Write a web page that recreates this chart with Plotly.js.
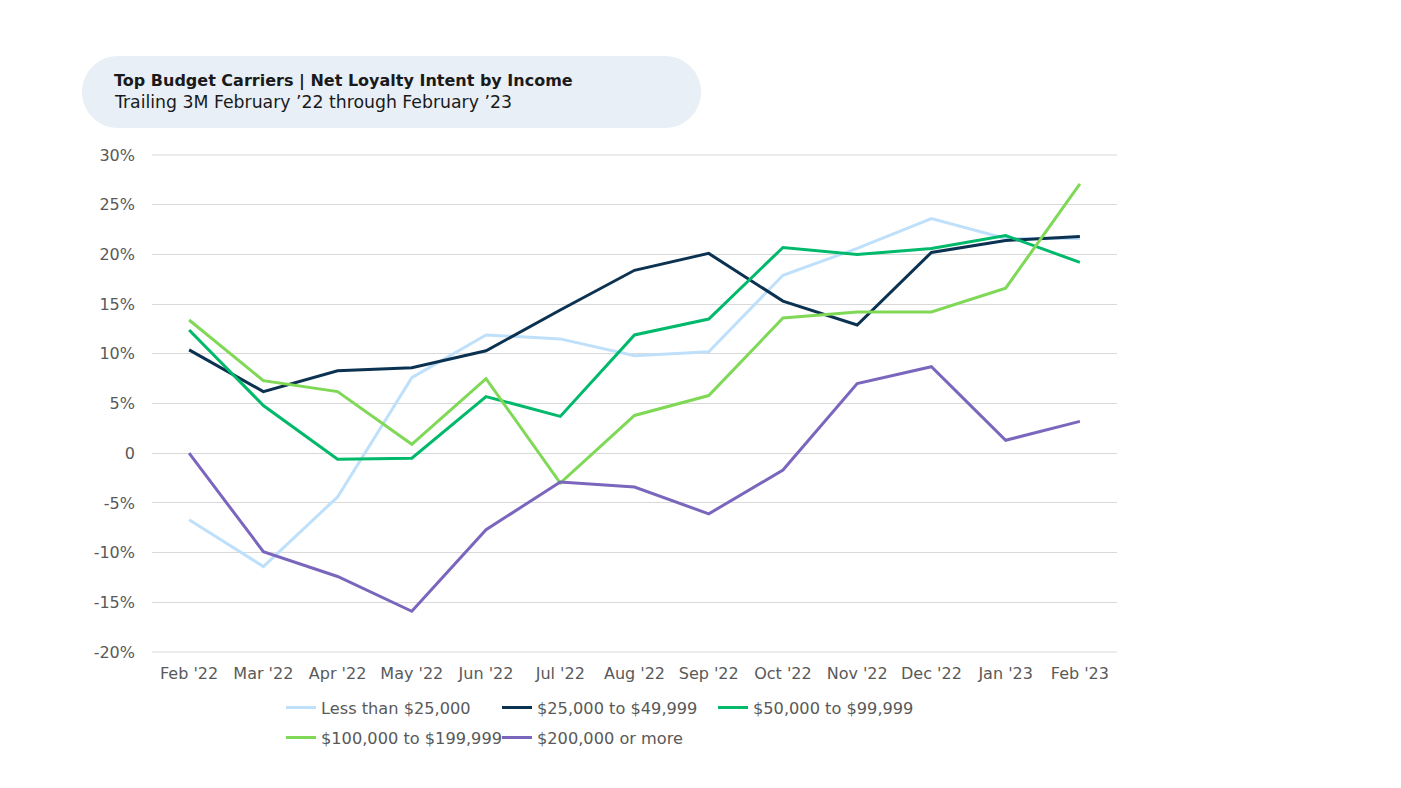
<!DOCTYPE html>
<html>
<head>
<meta charset="utf-8">
<script src="https://cdn.plot.ly/plotly-3.0.1.min.js"></script>
<style>html,body{margin:0;padding:0;background:#fff;}#chart{width:1401px;height:788px;}</style>
</head>
<body>
<div id="chart"></div>
<script>
const months = ["Feb '22","Mar '22","Apr '22","May '22","Jun '22","Jul '22","Aug '22","Sep '22","Oct '22","Nov '22","Dec '22","Jan '23","Feb '23"];
const lessThan25k   = [-6.7,-11.4,-4.4,7.6,11.9,11.5,9.8,10.2,17.9,20.6,23.6,21.6,21.6];
const from25to50k   = [10.4,6.2,8.3,8.6,10.3,14.4,18.4,20.1,15.3,12.9,20.2,21.4,21.8];
const from50to100k  = [12.4,4.8,-0.6,-0.5,5.7,3.7,11.9,13.5,20.7,20.0,20.6,21.9,19.2];
const from100to200k = [13.4,7.3,6.2,0.9,7.5,-3.0,3.8,5.8,13.6,14.2,14.2,16.6,27.1];
const over200k      = [0.0,-9.9,-12.4,-15.9,-7.7,-2.9,-3.4,-6.1,-1.7,7.0,8.7,1.3,3.2];
const seriesNames = ["Less than $25,000","$25,000 to $49,999","$50,000 to $99,999","$100,000 to $199,999","$200,000 or more"];
const seriesColors = ["#bfe0fb","#0c3251","#00b96b","#7fd856","#7b66bd"];
const yTickVals = [-20,-15,-10,-5,0,5,10,15,20,25,30];
const yTickText = ["-20%","-15%","-10%","-5%","0","5%","10%","15%","20%","25%","30%"];
const titleText = "Top Budget Carriers | Net Loyalty Intent by Income";
const subtitleText = "Trailing 3M February \u201922 through February \u201923";

const W = 1401, H = 788;
const L = 152, R = 1117, T = 154, B = 653;
const px = x => (x - L) / (R - L);
const py = y => (B - y) / (B - T);

const allSeries = [lessThan25k, from25to50k, from50to100k, from100to200k, over200k];
const FONT = "DejaVu Sans, sans-serif";
const traces = allSeries.map((vals, i) => ({
  type: 'scatter', mode: 'lines',
  x: months, y: vals, name: seriesNames[i],
  line: {color: seriesColors[i], width: 3},
  legend: i < 3 ? 'legend' : 'legend2',
  hoverinfo: 'skip'
}));

// rounded header pill
const x0=82, x1=701, y0=56, y1=128, r=36, k=0.5523;
const ym=(y0+y1)/2;
function P(x,y){return px(x).toFixed(5)+','+py(y).toFixed(5);}
const pill = 'M'+P(x0+r,y0)+' L'+P(x1-r,y0)+
  ' C'+P(x1-r+k*r,y0)+' '+P(x1,ym-k*r)+' '+P(x1,ym)+
  ' C'+P(x1,ym+k*r)+' '+P(x1-r+k*r,y1)+' '+P(x1-r,y1)+
  ' L'+P(x0+r,y1)+
  ' C'+P(x0+r-k*r,y1)+' '+P(x0,ym+k*r)+' '+P(x0,ym)+
  ' C'+P(x0,ym-k*r)+' '+P(x0+r-k*r,y0)+' '+P(x0+r,y0)+' Z';

const legendCommon = {
  orientation: 'h', xanchor: 'left', yanchor: 'middle',
  font: {family: FONT, size: 16.2, color: '#595959'},
  entrywidth: 171, entrywidthmode: 'pixels',
  bgcolor: 'rgba(0,0,0,0)', borderwidth: 0, tracegroupgap: 0
};

// edge gridlines (range ends) drawn explicitly in case the axis grid skips them
const edgeGrid = [yTickVals[0], yTickVals[yTickVals.length - 1]].map(v => ({
  type: 'line', xref: 'paper', yref: 'y', x0: 0, x1: 1, y0: v, y1: v,
  line: {color: '#d9d9d9', width: 1}, layer: 'below'
}));

const layout = {
  width: W, height: H,
  margin: {l: L, r: W - R, t: T, b: H - B, pad: 0},
  paper_bgcolor: '#fff', plot_bgcolor: '#fff',
  font: {family: FONT, color: '#595959'},
  showlegend: true,
  xaxis: {
    type: 'category', range: [-0.5, 12.5], showgrid: false, zeroline: false,
    showline: false, ticks: '', ticklabelstandoff: 9,
    tickfont: {family: FONT, size: 16, color: '#595959'}, fixedrange: true
  },
  yaxis: {
    range: [-20.1, 30.1], tickvals: yTickVals, ticktext: yTickText,
    showgrid: true, gridcolor: '#d9d9d9', gridwidth: 1, zeroline: false,
    showline: false, ticks: '', ticklabelstandoff: 16,
    tickfont: {family: FONT, size: 16, color: '#595959'}, fixedrange: true
  },
  legend: Object.assign({}, legendCommon, {x: px(281), y: py(708)}),
  legend2: Object.assign({}, legendCommon, {x: px(281), y: py(738)}),
  shapes: [{type: 'path', xref: 'paper', yref: 'paper', path: pill,
    fillcolor: '#e8eff6', line: {width: 0}, layer: 'below'}].concat(edgeGrid),
  annotations: [
    {xref: 'paper', yref: 'paper', x: px(112), y: py(81), xanchor: 'left', yanchor: 'middle',
     text: '<b>' + titleText + '</b>', showarrow: false,
     font: {family: FONT, size: 16, color: '#1a1a1a'}},
    {xref: 'paper', yref: 'paper', x: px(112), y: py(102), xanchor: 'left', yanchor: 'middle',
     text: subtitleText, showarrow: false,
     font: {family: FONT, size: 17.3, color: '#1a1a1a'}}
  ]
};

Plotly.newPlot('chart', traces, layout, {displayModeBar: false, staticPlot: true});
</script>
</body>
</html>
